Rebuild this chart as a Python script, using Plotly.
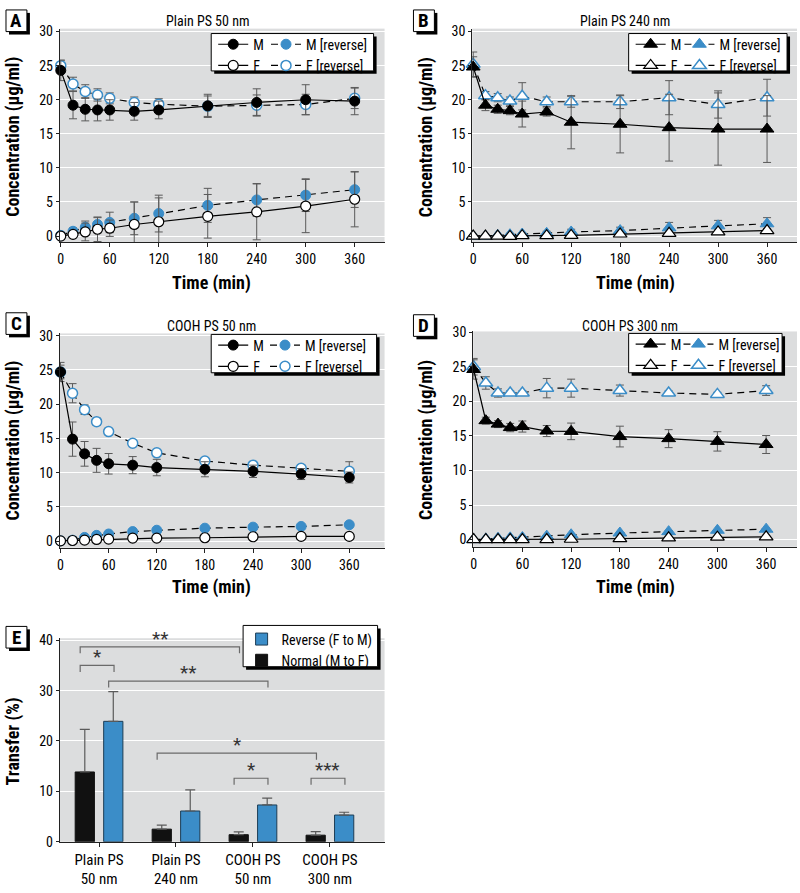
import plotly.graph_objects as go

# ---------------- DATA ----------------
times = [0, 15, 30, 45, 60, 90, 120, 180, 240, 300, 360]
time_ticks = [0, 60, 120, 180, 240, 300, 360]

# Panel A: Plain PS 50 nm
a_m = [24.3, 19.2, 18.6, 18.5, 18.5, 18.3, 18.5, 19.1, 19.6, 20.0, 19.8]
a_m_err = [1.5, 2.0, 1.7, 1.6, 1.5, 1.3, 1.3, 1.7, 2.0, 2.2, 2.0]
a_mr = [0.1, 0.7, 1.3, 1.7, 2.0, 2.6, 3.3, 4.5, 5.3, 6.0, 6.8]
a_mr_err = [0.2, 0.5, 0.9, 1.0, 1.5, 2.4, 2.7, 2.5, 2.4, 2.4, 2.6]
a_f = [0.0, 0.25, 0.6, 1.0, 1.15, 1.7, 2.1, 2.9, 3.55, 4.4, 5.4]
a_f_err = [0.1, 0.3, 1.3, 1.8, 1.2, 3.3, 3.5, 3.2, 4.1, 3.9, 4.05]
a_fr = [25.0, 22.3, 21.2, 20.7, 20.2, 19.6, 19.35, 19.05, 19.2, 19.3, 20.2]
a_fr_err = [0.8, 1.0, 1.0, 0.9, 0.8, 0.8, 0.8, 1.5, 1.5, 1.5, 1.5]

# Panel B: Plain PS 240 nm
b_m = [24.8, 19.2, 18.6, 18.4, 17.9, 18.2, 16.7, 16.4, 15.9, 15.7, 15.7]
b_m_err = [1.5, 0.8, 0.6, 0.6, 1.9, 0.6, 3.9, 4.2, 4.9, 5.3, 4.9]
b_mr = [0.0, 0.0, 0.1, 0.2, 0.3, 0.4, 0.6, 0.8, 1.2, 1.5, 1.8]
b_mr_err = [0.1, 0.1, 0.1, 0.2, 0.2, 0.3, 0.4, 0.5, 0.8, 0.8, 0.9]
b_f = [0.0, 0.0, 0.0, -0.05, 0.05, 0.05, 0.1, 0.3, 0.4, 0.6, 0.8]
b_f_err = [0.1, 0.1, 0.1, 0.1, 0.1, 0.1, 0.2, 0.2, 0.3, 0.3, 0.3]
b_fr = [25.2, 20.6, 20.3, 19.8, 20.5, 19.7, 19.7, 19.7, 20.3, 19.3, 20.3]
b_fr_err = [1.8, 0.6, 0.6, 0.6, 2.0, 0.7, 0.8, 1.0, 2.5, 2.0, 2.7]

# Panel C: COOH PS 50 nm
c_m = [24.7, 14.9, 12.75, 11.8, 11.3, 11.1, 10.75, 10.5, 10.2, 9.8, 9.3]
c_m_err = [1.4, 2.5, 1.8, 1.75, 1.5, 1.25, 1.2, 1.1, 0.9, 0.8, 0.8]
c_mr = [0.05, 0.15, 0.55, 0.85, 1.05, 1.4, 1.6, 1.9, 2.05, 2.15, 2.4]
c_mr_err = [0.1, 0.1, 0.2, 0.2, 0.2, 0.2, 0.2, 0.2, 0.2, 0.2, 0.2]
c_f = [0.05, 0.1, 0.15, 0.25, 0.3, 0.45, 0.45, 0.5, 0.65, 0.7, 0.7]
c_f_err = [0.1, 0.1, 0.1, 0.1, 0.1, 0.1, 0.1, 0.1, 0.1, 0.1, 0.1]
c_fr = [24.7, 21.6, 19.2, 17.45, 16.0, 14.3, 12.9, 11.7, 11.1, 10.65, 10.2]
c_fr_err = [1.0, 1.4, 0.7, 0.5, 0.4, 0.3, 0.3, 0.3, 0.3, 0.5, 1.4]

# Panel D: COOH PS 300 nm
d_m = [24.6, 17.2, 16.7, 16.2, 16.35, 15.7, 15.65, 14.9, 14.6, 14.2, 13.75]
d_m_err = [1.4, 0.5, 0.5, 0.6, 0.8, 0.8, 1.2, 1.5, 1.3, 1.4, 1.3]
d_mr = [0.0, 0.1, 0.2, 0.25, 0.3, 0.5, 0.7, 0.95, 1.15, 1.35, 1.5]
d_mr_err = [0.1, 0.1, 0.1, 0.1, 0.1, 0.1, 0.1, 0.1, 0.1, 0.1, 0.1]
d_f = [0.0, 0.0, 0.0, 0.0, 0.0, 0.0, 0.05, 0.15, 0.25, 0.35, 0.4]
d_f_err = [0.1, 0.1, 0.1, 0.1, 0.1, 0.1, 0.1, 0.1, 0.1, 0.1, 0.1]
d_fr = [25.0, 22.65, 21.2, 21.2, 21.2, 21.9, 21.9, 21.55, 21.2, 21.0, 21.55]
d_fr_err = [1.2, 0.9, 0.6, 0.3, 0.3, 1.4, 1.3, 0.8, 0.3, 0.3, 0.7]

# Panel E: transfer (%)
e_categories = ["Plain PS<br>50 nm", "Plain PS<br>240 nm", "COOH PS<br>50 nm", "COOH PS<br>300 nm"]
e_normal = [13.85, 2.5, 1.4, 1.3]
e_normal_err = [8.45, 0.8, 0.55, 0.7]
e_reverse = [23.9, 6.1, 7.3, 5.3]
e_reverse_err = [5.9, 4.2, 1.35, 0.55]
# significance comparisons: (group, series, group, series)
sig_pairs = [(0, "n", 2, "n"), (0, "n", 0, "r"), (0, "r", 2, "r"),
             (1, "n", 3, "n"), (2, "n", 2, "r"), (3, "n", 3, "r")]
sig_labels = ["**", "*", "**", "*", "*", "***"]
sig_levels = [38.7, 35.0, 31.9, 17.6, 12.6, 12.6]

# ---------------- STYLE ----------------
W, H = 800, 893
FONT = "Liberation Sans Narrow, Roboto Condensed, Arial Narrow, Roboto, sans-serif"
BLUE = "#3b8dc8"
BG = "#dcddde"
ERRC = "#5a5a5a"


def px(x):
    return x / W


def py(y):
    return 1 - y / H


fig = go.Figure()

panels = [
    dict(name="A", title="Plain PS 50 nm", data=(a_m, a_m_err, a_mr, a_mr_err, a_f, a_f_err, a_fr, a_fr_err),
         sym="circle", xd=(57, 383), yd=(22, 239), xr=[-1.2, 396.6], yr=[-0.87, 30.43],
         box=(3, 3), legbox=(209, 27, 372, 65), col2=55, title_pos=(205, 14), xt_pos=(209, 281), yt_pos=(10, 132)),
    dict(name="B", title="Plain PS 240 nm", data=(b_m, b_m_err, b_mr, b_mr_err, b_f, b_f_err, b_fr, b_fr_err),
         sym="triangle-up", xd=(471, 797), yd=(22, 239), xr=[-1.2, 396.7], yr=[-0.87, 30.43],
         box=(412, 3), legbox=(628, 27, 787, 65), col2=51, title_pos=(624, 14), xt_pos=(635, 281), yt_pos=(424, 132)),
    dict(name="C", title="COOH PS 50 nm", data=(c_m, c_m_err, c_mr, c_mr_err, c_f, c_f_err, c_fr, c_fr_err),
         sym="circle", xd=(57, 383), yd=(332, 550), xr=[-0.9, 404], yr=[-0.96, 30.33],
         box=(3, 311), legbox=(209, 333, 375, 372), col2=54, title_pos=(209, 324), xt_pos=(209, 590), yt_pos=(10, 441)),
    dict(name="D", title="COOH PS 300 nm", data=(d_m, d_m_err, d_mr, d_mr_err, d_f, d_f_err, d_fr, d_fr_err),
         sym="triangle-up", xd=(472, 797), yd=(330, 549), xr=[-0.5, 398], yr=[-1.04, 30.1],
         box=(412, 313), legbox=(628, 332, 782, 372), col2=50, title_pos=(629, 324), xt_pos=(635, 590), yt_pos=(424, 440)),
]

shapes = []
annotations = []
layout_axes = {}
legends = {}


def letter_box(x0, y0, letter):
    shapes.append(dict(type="rect", xref="paper", yref="paper", x0=px(x0 + 3), x1=px(x0 + 24), y0=py(y0 + 25), y1=py(y0 + 3),
                       fillcolor="black", line=dict(width=0), layer="above"))
    shapes.append(dict(type="rect", xref="paper", yref="paper", x0=px(x0), x1=px(x0 + 21), y0=py(y0 + 22), y1=py(y0),
                       fillcolor="white", line=dict(color="black", width=1), layer="above"))
    annotations.append(dict(text=f"<b>{letter}</b>", x=px(x0 + 10.5), y=py(y0 + 11), xref="paper", yref="paper",
                            showarrow=False, font=dict(family=FONT, size=19, color="black"),
                            xanchor="center", yanchor="middle"))


def legend_box(x0, y0, x1, y1):
    shapes.append(dict(type="rect", xref="paper", yref="paper", x0=px(x0 + 3), x1=px(x1 + 3), y0=py(y1 + 3), y1=py(y0 + 3),
                       fillcolor="black", line=dict(width=0), layer="above"))
    shapes.append(dict(type="rect", xref="paper", yref="paper", x0=px(x0), x1=px(x1), y0=py(y1), y1=py(y0),
                       fillcolor="white", line=dict(color="black", width=1), layer="above"))


def legend_cfg(left, top):
    return dict(x=px(left), y=py(top), xanchor="left", yanchor="top", bgcolor="rgba(0,0,0,0)",
                borderwidth=0, font=dict(family=FONT, size=14, color="black"), orientation="v",
                tracegroupgap=0, itemwidth=30)


for i, p in enumerate(panels):
    k = i + 1
    xa = "x" if k == 1 else f"x{k}"
    ya = "y" if k == 1 else f"y{k}"
    m, me, mr, mre, f, fe, fr, fre = p["data"]
    lg1 = "legend" if k == 1 else f"legend{2 * k - 1}"
    lg2 = f"legend{2 * k}"
    size = 10 if p["sym"] == "circle" else 12
    err = lambda arr: dict(type="data", array=arr, color=ERRC, thickness=1, width=4)
    # reverse series first (drawn underneath)
    fig.add_trace(go.Scatter(x=times, y=mr, error_y=err(mre), name="M [reverse]", mode="lines+markers",
                             line=dict(color="black", width=1.2, dash="7px,5px"),
                             marker=dict(symbol=p["sym"], size=size, color=BLUE, line=dict(color=BLUE, width=1)),
                             xaxis=xa, yaxis=ya, legend=lg2, cliponaxis=False))
    fig.add_trace(go.Scatter(x=times, y=fr, error_y=err(fre), name="F [reverse]", mode="lines+markers",
                             line=dict(color="black", width=1.2, dash="7px,5px"),
                             marker=dict(symbol=p["sym"], size=size, color="white", line=dict(color=BLUE, width=1.5)),
                             xaxis=xa, yaxis=ya, legend=lg2, cliponaxis=False))
    fig.add_trace(go.Scatter(x=times, y=m, error_y=err(me), name="M", mode="lines+markers",
                             line=dict(color="black", width=1.2),
                             marker=dict(symbol=p["sym"], size=size, color="black", line=dict(color="black", width=1)),
                             xaxis=xa, yaxis=ya, legend=lg1, cliponaxis=False))
    fig.add_trace(go.Scatter(x=times, y=f, error_y=err(fe), name="F", mode="lines+markers",
                             line=dict(color="black", width=1.2),
                             marker=dict(symbol=p["sym"], size=size, color="white", line=dict(color="black", width=1.2)),
                             xaxis=xa, yaxis=ya, legend=lg1, cliponaxis=False))

    axkey_x = "xaxis" if k == 1 else f"xaxis{k}"
    axkey_y = "yaxis" if k == 1 else f"yaxis{k}"
    layout_axes[axkey_x] = dict(domain=[px(p["xd"][0]), px(p["xd"][1])], range=p["xr"], anchor=ya,
                                tickvals=time_ticks, showgrid=False, zeroline=False, showline=True,
                                linecolor="#222", linewidth=1, ticks="outside", ticklen=4, tickcolor="#222",
                                tickfont=dict(family=FONT, size=14, color="black"))
    layout_axes[axkey_y] = dict(domain=[py(p["yd"][1]), py(p["yd"][0])], range=p["yr"], anchor=xa,
                                tickvals=[0, 5, 10, 15, 20, 25, 30], showgrid=True, gridcolor="white", gridwidth=1.2,
                                zeroline=False, showline=True, linecolor="#222", linewidth=1,
                                ticks="outside", ticklen=3, tickcolor="#222",
                                tickfont=dict(family=FONT, size=14, color="black"))
    lb = p["legbox"]
    legend_box(*lb)
    legends[lg1] = legend_cfg(lb[0] + 2, lb[1] - 5)
    legends[lg2] = legend_cfg(lb[0] + p["col2"], lb[1] - 5)
    letter_box(p["box"][0], p["box"][1], p["name"])
    annotations.append(dict(text=p["title"], x=px(p["title_pos"][0]), y=py(p["title_pos"][1]), xref="paper", yref="paper",
                            showarrow=False, font=dict(family=FONT, size=14, color="black"),
                            xanchor="center", yanchor="middle"))
    annotations.append(dict(text="<b>Time (min)</b>", x=px(p["xt_pos"][0]), y=py(p["xt_pos"][1]), xref="paper", yref="paper",
                            showarrow=False, font=dict(family=FONT, size=18, color="black"),
                            xanchor="center", yanchor="middle"))
    annotations.append(dict(text="<b>Concentration (µg/ml)</b>", x=px(p["yt_pos"][0]), y=py(p["yt_pos"][1]),
                            xref="paper", yref="paper", textangle=-90,
                            showarrow=False, font=dict(family=FONT, size=18, color="black"),
                            xanchor="center", yanchor="middle"))

# ---------------- Panel E ----------------
grp = list(range(len(e_categories)))
BW = 0.25
OFF = 0.185
fig.add_trace(go.Bar(x=grp, y=e_reverse, width=BW, offset=OFF - BW / 2, name="Reverse (F to M)",
                     marker=dict(color=BLUE, line=dict(color="#1d3d55", width=1)),
                     error_y=dict(type="data", array=e_reverse_err, arrayminus=[0] * 4, symmetric=False,
                                  color=ERRC, thickness=1.2, width=5),
                     xaxis="x5", yaxis="y5", legend="legend9"))
fig.add_trace(go.Bar(x=grp, y=e_normal, width=BW, offset=-OFF - BW / 2, name="Normal (M to F)",
                     marker=dict(color="#111111", line=dict(color="#111111", width=1)),
                     error_y=dict(type="data", array=e_normal_err, arrayminus=[0] * 4, symmetric=False,
                                  color=ERRC, thickness=1.2, width=5),
                     xaxis="x5", yaxis="y5", legend="legend9"))

layout_axes["xaxis5"] = dict(domain=[px(57), px(383)], range=[-0.51, 3.71], anchor="y5",
                             tickvals=grp, ticktext=e_categories, showgrid=False, zeroline=False,
                             showline=True, linecolor="#222", linewidth=1, ticks="outside", ticklen=4,
                             tickcolor="#222", tickfont=dict(family=FONT, size=15, color="black"))
layout_axes["yaxis5"] = dict(domain=[py(849), py(642)], range=[0, 40.4], anchor="x5",
                             tickvals=[0, 10, 20, 30, 40], showgrid=True, gridcolor="white", gridwidth=1.2,
                             zeroline=False, showline=True, linecolor="#222", linewidth=1,
                             ticks="outside", ticklen=3, tickcolor="#222",
                             tickfont=dict(family=FONT, size=14, color="black"))

# significance brackets
def bar_x(g, s):
    return g + (OFF if s == "r" else -OFF)

LEG = 1.3
for (g1, s1, g2, s2), lab, lev in zip(sig_pairs, sig_labels, sig_levels):
    x1 = bar_x(g1, s1) - 0.06
    x2 = bar_x(g2, s2) + 0.01
    shapes.append(dict(type="path", xref="x5", yref="y5",
                       path=f"M {x1},{lev - LEG} L {x1},{lev} L {x2},{lev} L {x2},{lev - LEG}",
                       line=dict(color="#6a6a6a", width=1.2)))
    annotations.append(dict(text=lab, x=(x1 + x2) / 2, y=lev, xref="x5", yref="y5", showarrow=False,
                            yanchor="bottom", yshift=-5, font=dict(family=FONT, size=19, color="#333")))

legend_box(241, 629, 376, 671)
legends["legend9"] = legend_cfg(239.5, 627)
letter_box(3, 630, "E")
annotations.append(dict(text="<b>Transfer (%)</b>", x=px(10), y=py(747), xref="paper", yref="paper", textangle=-90,
                        showarrow=False, font=dict(family=FONT, size=18, color="black"),
                        xanchor="center", yanchor="middle"))

fig.update_layout(width=W, height=H, margin=dict(l=0, r=0, t=0, b=0), paper_bgcolor="white",
                  plot_bgcolor=BG, showlegend=True, barmode="overlay",
                  font=dict(family=FONT, size=14, color="black"),
                  shapes=shapes, annotations=annotations, **layout_axes, **legends)

fig.write_html("out.html", config={"displayModeBar": False},
               post_script="document.body.style.margin='0';document.body.style.overflow='hidden';")
